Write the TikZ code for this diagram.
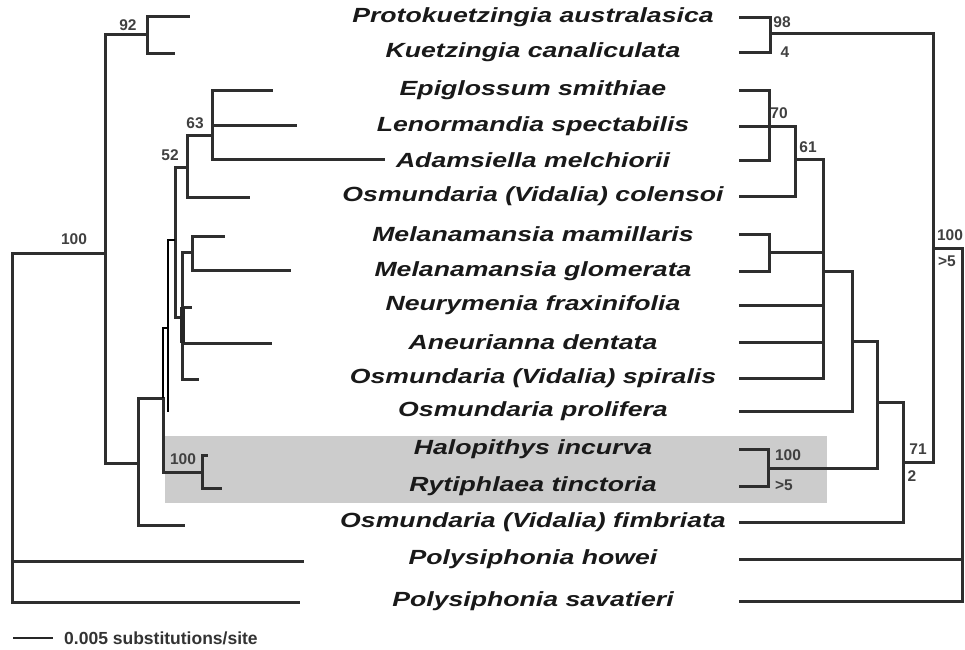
\documentclass[tikz,border=0pt]{standalone}
\usepackage{fontspec}
\setsansfont{Liberation Sans}
\newfontfamily\taxfont{Liberation Sans}[FakeStretch=1.3]
\usepackage{tikz}
\usetikzlibrary{positioning,calc}
\tikzset{
  taxon/.style={inner sep=0pt, anchor=center, text=black!90, font=\taxfont\bfseries\itshape\fontsize{20.5}{24}\selectfont},
  boot/.style={inner sep=0pt, text=black!75, font=\sffamily\bfseries\fontsize{15.5}{17}\selectfont},
  branch/.style={line width=3pt, draw=black!82, line cap=rect},
  thinbranch/.style={line width=2pt, draw=black},
  blob/.style={line width=5pt, draw=black!85},
  clade/.style={fill=black!20, draw=none},
  scalebar/.style={line width=2.2pt, draw=black!85},
  scaletext/.style={inner sep=0pt, anchor=west, text=black!80, font=\sffamily\bfseries\fontsize{17.5}{20}\selectfont}
}
\begin{document}
\begin{tikzpicture}[x=1pt,y=-1pt]
  \useasboundingbox (0,0) rectangle (965,649);
  % highlighted clade
  \fill[clade] (165,436) rectangle (827,503);
  % taxa and right tips
  \foreach \y/\name [count=\i] in {17/{Protokuetzingia australasica}, 52/{Kuetzingia canaliculata},
      90/{Epiglossum smithiae}, 126/{Lenormandia spectabilis}, 160/{Adamsiella melchiorii},
      196/{Osmundaria (Vidalia) colensoi}, 234/{Melanamansia mamillaris}, 271/{Melanamansia glomerata},
      305/{Neurymenia fraxinifolia}, 342/{Aneurianna dentata}, 378/{Osmundaria (Vidalia) spiralis},
      411/{Osmundaria prolifera}, 449/{Halopithys incurva}, 486/{Rytiphlaea tinctoria},
      522/{Osmundaria (Vidalia) fimbriata}, 559/{Polysiphonia howei}, 601/{Polysiphonia savatieri}} {
    \node[taxon] (t\i) at (533,\y) {\name};
    \coordinate (r\i) at (740,\y);
  }
  % left tips
  \foreach \x/\y [count=\i] in {188/16, 173/53, 271/90, 295/125, 383/159, 248/197, 223/236, 289/270,
      190/307, 270/343, 197/379, 168/412, 206/455, 220/488, 183/525, 302/561, 298/602} {
    \coordinate (l\i) at (\x,\y);
  }
  % left tree (phylogram)
  \coordinate (Lroot) at (12,400);
  \coordinate (La) at (105,253);
  \coordinate (L92) at (147,34);
  \coordinate (Lb) at (138,463);
  \coordinate (Lc) at (163,398);
  \coordinate (L168) at (168,328);
  \coordinate (L175) at (175,240);
  \coordinate (L52) at (187,167);
  \coordinate (L63) at (212,135);
  \coordinate (Lx) at (182,317);
  \coordinate (Lmel) at (192,252);
  \coordinate (LH) at (202,472);
  \foreach \a/\b in {Lroot/La, Lroot/l16, Lroot/l17, La/L92, La/Lb, L92/l1, L92/l2, Lb/Lc, Lb/l15,
      Lc/LH, LH/l13, LH/l14, L175/L52, L175/Lx, L52/L63, L52/l6, L63/l3, L63/l4, L63/l5,
      Lx/Lmel, Lx/l9, Lx/l10, Lx/l11, Lmel/l7, Lmel/l8} {
    \draw[branch] (\a) |- (\b);
  }
  \draw[thinbranch] (Lc) |- (L168);
  \draw[thinbranch] (L168) |- (L175);
  \draw[thinbranch] (L168) |- (l12);
  \draw[blob] (Lx |- l9) -- (Lx |- l10);
  % right tree (consensus)
  \coordinate (Rroot) at (962,420);
  \coordinate (R933) at (933,248);
  \coordinate (R98) at (770,33);
  \coordinate (R71) at (903,462);
  \coordinate (R877) at (877,402);
  \coordinate (R852) at (852,341);
  \coordinate (R823) at (823,271);
  \coordinate (R61) at (795,159);
  \coordinate (R70) at (769,126);
  \coordinate (Rmel) at (769,252);
  \coordinate (RH) at (768,468);
  \foreach \a/\b in {Rroot/R933, Rroot/r16, Rroot/r17, R933/R98, R933/R71, R98/r1, R98/r2,
      R71/R877, R71/r15, R877/R852, R877/RH, RH/r13, RH/r14, R852/R823, R852/r12,
      R823/R61, R823/Rmel, R823/r9, R823/r10, R823/r11, R61/R70, R61/r6,
      R70/r3, R70/r4, R70/r5, Rmel/r7, Rmel/r8} {
    \draw[branch] (\a) |- (\b);
  }
  % support values
  \node[boot] (b92) at (128,25) {92};
  \node[boot] (b100a) at (74,239) {100};
  \node[boot] (b63) at (195,123) {63};
  \node[boot] (b52) at (170,155) {52};
  \node[boot] (b100h) at (183,459) {100};
  \node[boot] (b98) at (782,22) {98};
  \node[boot] (b4) at (785,52) {4};
  \node[boot] (b70) at (779,113) {70};
  \node[boot] (b61) at (808,147) {61};
  \node[boot] (b100r) at (950,235) {100};
  \node[boot] (bgt5) at (947,261) {>5};
  \node[boot] (b71) at (918,449) {71};
  \node[boot] (b2) at (912,476) {2};
  \node[boot] (b100rh) at (788,455) {100};
  \node[boot] (bgt5h) at (784,485) {>5};
  % scale bar
  \coordinate (sb1) at (13,638);
  \coordinate (sb2) at (53,638);
  \draw[scalebar] (sb1) -- (sb2);
  \node[scaletext] (sbl) at (64,638) {0.005 substitutions/site};
\end{tikzpicture}
\end{document}
